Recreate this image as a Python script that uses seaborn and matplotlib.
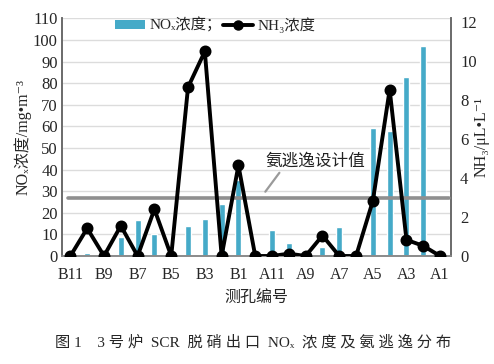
import numpy as np
import pandas as pd
import matplotlib
matplotlib.use("Agg")
import matplotlib.pyplot as plt
import seaborn as sns
from matplotlib.patches import Patch
from matplotlib.lines import Line2D

categories = ["B11", "B10", "B9", "B8", "B7", "B6", "B5", "B4", "B3", "B2", "B1", "A12",
              "A11", "A10", "A9", "A8", "A7", "A6", "A5", "A4", "A3", "A2", "A1"]
nox_values = [2.0, 1.5, 0, 8.9, 16.8, 10.0, 0, 13.8, 17.2, 24.0, 35.0, 0,
              12.2, 6.0, 0, 4.2, 13.3, 0, 59.4, 58.0, 83.0, 97.4, 0]
nh3_values = [0, 1.42, 0, 1.55, 0, 2.4, 0, 8.66, 10.5, 0, 4.65, 0,
              0, 0.12, 0, 1.05, 0, 0, 2.83, 8.54, 0.83, 0.52, 0]
tick_labels = categories[::2]
nh3_design = 3.0

sns.set_style("white")
FAM = ['Liberation Serif', 'Noto Sans CJK SC', 'DejaVu Serif', 'DejaVu Sans']
plt.rcParams['font.family'] = FAM

df = pd.DataFrame({"cat": categories, "nox": nox_values, "nh3": nh3_values})

fig = plt.figure(figsize=(4.94, 3.64), dpi=100)
ax = fig.add_axes([62/494, 1-256/364, (451-62)/494, (256-18.3)/364])

bar_color = "#45AAC8"
sns.barplot(data=df, x="cat", y="nox", ax=ax, color=bar_color, width=0.36,
            saturation=1, zorder=2)
ax.set_ylim(0, 110)
ax.set_yticks(np.arange(0, 111, 10))
ax.yaxis.grid(True, color="#dcdcdc", lw=1, zorder=0)
ax.set_axisbelow(True)

ax2 = ax.twinx()
sns.pointplot(data=df, x="cat", y="nh3", ax=ax2, color="black", markers="o",
              linewidth=2.8, markersize=6.5, zorder=5)
ax2.axhline(nh3_design, xmin=0.015, xmax=0.995, color="#8f8f8f", lw=2.6, zorder=3)
ax2.set_ylim(0, 12.2)
ax2.set_yticks(np.arange(0, 13, 2))

for a in (ax, ax2):
    a.set_xlim(-0.5, 22.65)
ax.set_xticks(range(0, len(categories), 2))
ax.set_xticklabels(tick_labels, fontsize=11.5)
ax.tick_params(axis="x", length=0, pad=8)
ax.tick_params(axis="y", length=0, pad=3)
ax2.tick_params(axis="y", length=0, pad=6.5)
for lab in ax.get_yticklabels() + ax2.get_yticklabels():
    lab.set_fontsize(12)

for a in (ax, ax2):
    a.spines["top"].set_visible(False)
    a.spines["left"].set_color("#6a6a6a")
    a.spines["right"].set_color("#6a6a6a")
    a.spines["bottom"].set_color("#8a8a8a")
    for s in a.spines.values():
        s.set_linewidth(1.2)

ax.set_xlabel("测孔编号", fontsize=11.5, labelpad=5)
ax.set_ylabel("NOₓ浓度/mg•m⁻³", fontsize=11.5, labelpad=1)
ax2.set_ylabel("NH₃/μL•L⁻¹", fontsize=11.5, rotation=90, labelpad=-2)

ax2.annotate("氨逃逸设计值", xy=(11.6, 3.3), xytext=(14.6, 4.85),
             fontsize=12, ha="center", va="center", color="#222222",
             arrowprops=dict(arrowstyle="-", color="#9a9a9a", lw=1.6,
                             relpos=(0.16, 0.0), shrinkA=0, shrinkB=0))

handles = [Patch(facecolor=bar_color, edgecolor="none"),
           Line2D([], [], color="black", lw=2.8, marker="o", markersize=6.5)]
fig.legend(handles, ["NOₓ浓度；", "NH₃浓度"], loc="center",
           bbox_to_anchor=(215/494, 1-25/364), ncol=2, frameon=False,
           fontsize=11, handlelength=2.0, handleheight=0.55,
           handletextpad=0.25, columnspacing=0.1)

fig.text(253/494, 1-342/364, "图 1    3 号 炉  SCR  脱 硝 出 口  NOₓ  浓 度 及 氨 逃 逸 分 布",
         ha="center", va="center", fontsize=11)

fig.savefig("out.png", dpi=100)
